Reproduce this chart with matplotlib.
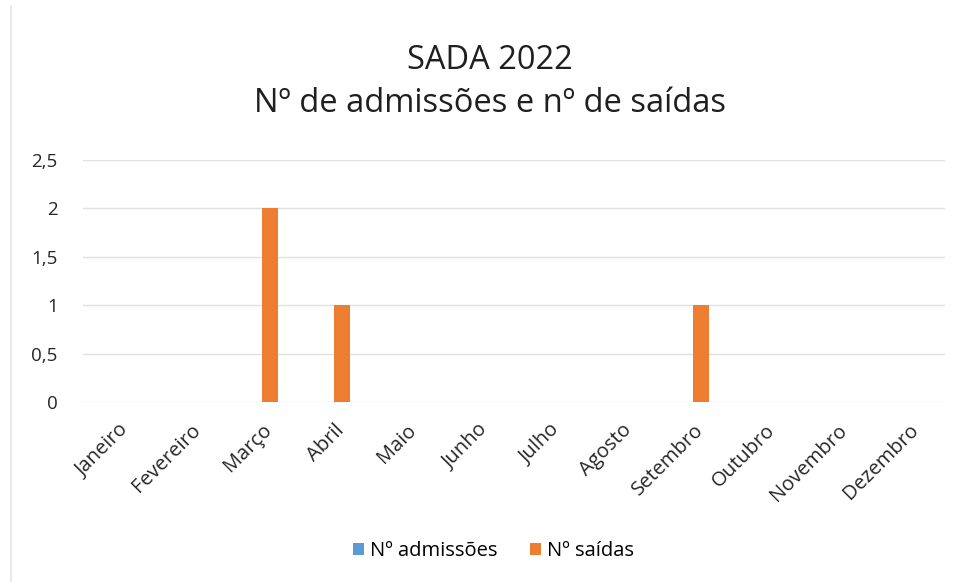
import matplotlib.pyplot as plt
import numpy as np

meses = ['Janeiro', 'Fevereiro', 'Março', 'Abril', 'Maio', 'Junho', 'Julho',
         'Agosto', 'Setembro', 'Outubro', 'Novembro', 'Dezembro']
admissoes = [0, 0, 0, 0, 0, 0, 0, 0, 0, 0, 0, 0]
saidas = [0, 0, 2, 1, 0, 0, 0, 0, 1, 0, 0, 0]
yticks = [0, 0.5, 1, 1.5, 2, 2.5]

plt.rcParams['font.family'] = ['Open Sans', 'DejaVu Sans']

fig = plt.figure(figsize=(9.6, 5.82), dpi=100)
ax = fig.add_axes([0.086, 0.309, 0.898, 0.416])

x = np.arange(len(meses))
w = 0.22
ax.bar(x - w / 2, admissoes, w, color='#5B9BD5', label='Nº admissões')
ax.bar(x + w / 2, saidas, w, color='#ED7D31', label='Nº saídas')

ax.set_xlim(-0.5, len(meses) - 0.5)
ax.set_ylim(0, 2.5)
ax.set_yticks(yticks)
ax.set_yticklabels([str(v).replace('.', ',').replace(',0', '') for v in yticks],
                   fontsize=13.5)
ax.set_xticks(x)
ax.set_xticklabels(meses, rotation=45, ha='right', rotation_mode='anchor',
                   fontsize=14.5)
ax.tick_params(axis='both', length=0, colors='#262626')
ax.tick_params(axis='x', pad=13)
ax.tick_params(axis='y', pad=18)
ax.grid(axis='y', color='#E0E0E0', linewidth=1)
ax.set_axisbelow(True)
for s in ax.spines.values():
    s.set_visible(False)

fig.text(0.51, 1 - 69 / 582, 'SADA 2022', ha='center', va='baseline',
         fontsize=23.5, color='#1F1F1F')
fig.text(0.51, 1 - 112 / 582, 'Nº de admissões e nº de saídas', ha='center',
         va='baseline', fontsize=23.5, color='#1F1F1F')

fig.legend(loc='center', bbox_to_anchor=(0.514, 0.053), ncol=2, frameon=False,
           fontsize=14.5, handlelength=0.55, handleheight=0.55, columnspacing=1.6,
           handletextpad=0.3)

fig.add_artist(plt.Line2D([0.011, 0.011], [0.0, 0.99], color='#E6E6E6', lw=1.2))

fig.savefig('out.png', dpi=100)
